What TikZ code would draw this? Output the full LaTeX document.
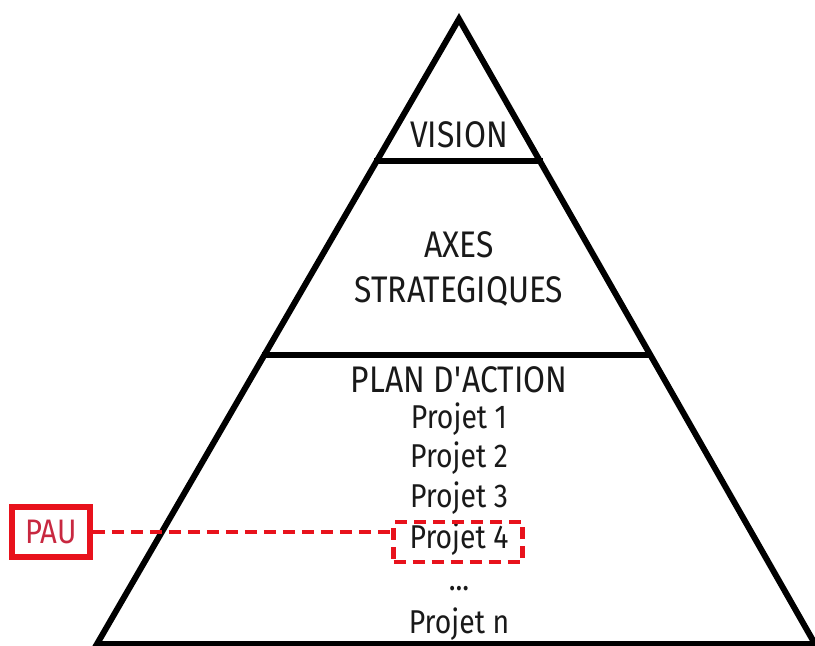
\documentclass[tikz,border=0pt]{standalone}
\usepackage{fontspec}
\setmainfont{Fira Sans}[FakeStretch=0.86]
\definecolor{pauRed}{RGB}{232,18,28}
\definecolor{pauText}{RGB}{200,40,64}

\begin{document}
\begin{tikzpicture}[x=1pt,y=-1pt,
  lvl/.style={font=\fontsize{37}{39}\selectfont, text=black!90, inner sep=0pt, anchor=base},
  prj/.style={font=\fontsize{33}{35}\selectfont, text=black!90, inner sep=0pt, anchor=base},
  reddash/.style={draw=pauRed, line width=4.5pt, dash pattern=on 12pt off 7pt}]
  \useasboundingbox (0,0) rectangle (815,646);
  % pyramid: apex, base corners
  \coordinate (apex) at (459,19);
  \coordinate (bl) at (97,644);
  \coordinate (br) at (815,644);
  \draw[line width=6pt] (apex) -- (bl) -- (br) -- cycle;
  % level separators
  \coordinate (l1) at (374,161);  \coordinate (r1) at (543,161);
  \coordinate (l2) at (262,355);  \coordinate (r2) at (652,355);
  \draw[line width=6pt] (l1) -- (r1);
  \draw[line width=6pt] (l2) -- (r2);
  % labels
  \node[lvl] (vision) at (459,147) {VISION};
  \node[lvl] (axes) at (459,257) {AXES};
  \node[lvl] (strat) at (459,302) {STRATEGIQUES};
  \node[lvl] (plan) at (459,392) {PLAN D\textquotesingle ACTION};
  \node[prj] (p1) at (459,428) {Projet 1};
  \node[prj] (p2) at (459,467) {Projet 2};
  \node[prj] (p3) at (459,507) {Projet 3};
  \node[prj] (p4) at (459,548) {Projet 4};
  \node[prj] (pdots) at (459,590) {...};
  \node[prj] (pn) at (459,633) {Projet n};
  % PAU and its link
  \node[reddash, minimum width=129, minimum height=40] (p4box) at (458,542) {};
  \node[draw=pauRed, line width=5.5pt, minimum width=78, minimum height=50,
        text=pauText, font=\fontsize{34}{36}\selectfont] (pau) at (51,532) {PAU};
  \draw[reddash] (pau.east) -- (pau.east -| p4box.west);
\end{tikzpicture}
\end{document}
